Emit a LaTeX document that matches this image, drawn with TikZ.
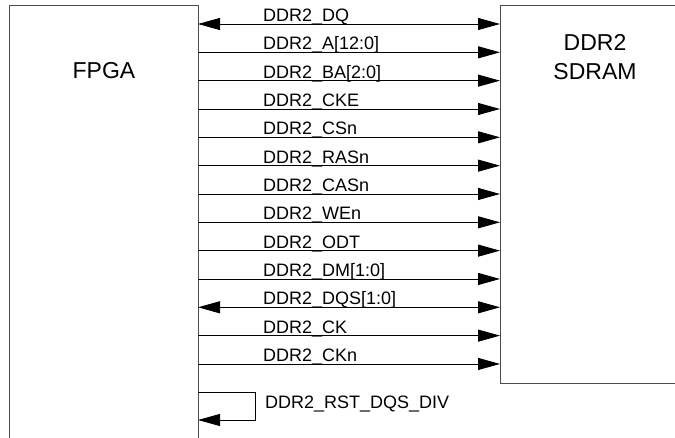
\documentclass[tikz,border=0pt]{standalone}
\usepackage{fontspec}
\setmainfont{Liberation Sans}
\usepackage{tikz}
\usetikzlibrary{arrows.meta}
\usetikzlibrary{positioning}
\tikzstyle{chip} = [rectangle, draw=black!70, line width=1pt, inner sep=0pt, anchor=north west]
\tikzstyle{chipName} = [font=\fontsize{23}{29}\selectfont, align=center, anchor=base, inner sep=0pt]
\tikzstyle{sig} = [line width=0.9pt, -{Triangle[length=22pt, width=12pt]}]
\tikzstyle{bisig} = [line width=0.9pt, {Triangle[length=22pt, width=12pt]}-{Triangle[length=22pt, width=12pt]}]
\tikzstyle{sigName} = [font=\fontsize{18}{20}\selectfont, anchor=base west, inner sep=0pt]

\begin{document}
\begin{tikzpicture}[x=1pt, y=-1pt]
                                \useasboundingbox (0,0) rectangle (675,438);
                                \clip (0,0) rectangle (675,438);
                                \node (fpga) [chip, minimum width=189pt, minimum height=480pt] at (9,5) {};
                                \node (sdram) [chip, minimum width=200pt, minimum height=378pt] at (500,5) {};
                                \node (fpgaName) [chipName] at (104,79) {FPGA};
                                \node (sdramName) [chipName] at (595,80) {DDR2\\SDRAM};
                                \foreach \name/\kind [count=\i] in {DQ/bisig, A[12:0]/sig, BA[2:0]/sig, CKE/sig, CSn/sig, RASn/sig, CASn/sig, WEn/sig, ODT/sig, DM[1:0]/sig, DQS[1:0]/bisig, CK/sig, CKn/sig} {
                                    \coordinate (f\i) at (198, {24+(\i-1)*28.33});
                                    \coordinate (s\i) at (500, {24+(\i-1)*28.33});
                                    \draw [\kind] (f\i) -- (s\i);
                                    \node (n\i) [sigName] at (263, {21.5+(\i-1)*28.33}) {DDR2\_\name};
                                }
                                \coordinate (rstOut) at (198,392);
                                \coordinate (rstIn) at (198,420);
                                \draw [sig] (rstOut) -- ++(57,0) |- (rstIn);
                                \node (rst) [sigName] at (265,408) {DDR2\_RST\_DQS\_DIV};
                            \end{tikzpicture}
\end{document}
